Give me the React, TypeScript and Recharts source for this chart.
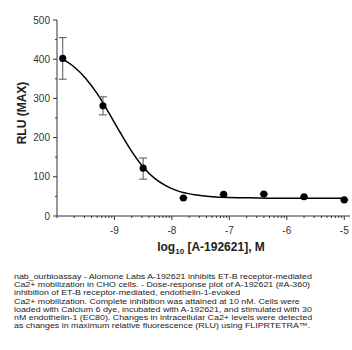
import { ComposedChart, ErrorBar, Line, Scatter, XAxis, YAxis, ZAxis } from 'recharts';

// measured points: log10 concentration (M), RLU max, error [down, up]
const logConc = [-9.9, -9.2, -8.5, -7.8, -7.1, -6.4, -5.7, -5.0];
const rlu = [402, 281, 122, 46, 55, 56, 49, 41];
const errDown = [53, 23, 28, 0, 0, 0, 0, 0];
const errUp = [53, 23, 26, 0, 0, 0, 0, 0];

// fitted curve
const fitX = [-9.9, -9.7, -9.5, -9.3, -9.1, -8.9, -8.7, -8.5, -8.3, -8.1, -7.9, -7.6, -7.3, -7.0, -6.5, -6.0, -5.0];
const fitY = [400, 380, 351, 312, 264, 213, 165, 125, 96, 77, 64, 54, 49, 47, 46, 45, 45];

const xMajor = [-9, -8, -7, -6, -5];
const yTicks = [0, 50, 100, 150, 200, 250, 300, 350, 400, 450, 500];
const yLabels = [0, 100, 200, 300, 400, 500];

const caption = [
  'nab_ourbioassay - Alomone Labs A-192621 inhibits ET-B receptor-mediated',
  'Ca2+ mobilization in CHO cells. - Dose-response plot of A-192621 (#A-360)',
  'inhibition of ET-B receptor-mediated, endothelin-1-evoked',
  'Ca2+ mobilization. Complete inhibition was attained at 10 nM. Cells were',
  'loaded with Calcium 6 dye, incubated with A-192621, and stimulated with 30',
  'nM endothelin-1 (EC80). Changes in intracellular Ca2+ levels were detected',
  'as changes in maximum relative fluorescence (RLU) using FLIPRTETRA\u2122.',
];

const X_MIN = -10;
const X_MAX = -4.9;

// log minor ticks between decades
const xTicks: number[] = [];
for (let d = -10; d <= -5; d++) {
  xTicks.push(d);
  for (let k = 2; k <= 9; k++) {
    const v = d + Math.log10(k);
    if (v < X_MAX) xTicks.push(v);
  }
}

const points = logConc.map((x, i) => ({ x, y: rlu[i], err: [errDown[i], errUp[i]] }));
const fit = fitX.map((x, i) => ({ x, y: fitY[i] }));

const font = '"Liberation Sans", Arial, sans-serif';
const axisColor = '#333';

function XTick(props: any) {
  const { x, y, payload } = props;
  const v = payload.value as number;
  const major = xMajor.some((m) => Math.abs(m - v) < 1e-6);
  return (
    <g>
      <line x1={x} x2={x} y1={y} y2={y + (major ? 4 : 2)} stroke={axisColor} strokeWidth={1} />
      {major && (
        <text x={x} y={y + 18} textAnchor="middle" fontSize={10} fontFamily={font} fill="#333">
          {v}
        </text>
      )}
    </g>
  );
}

function YTick(props: any) {
  const { x, y, payload } = props;
  const v = payload.value as number;
  const major = yLabels.includes(v);
  return (
    <g>
      <line x1={x} x2={x - (major ? 4 : 2)} y1={y} y2={y} stroke={axisColor} strokeWidth={1} />
      {major && (
        <text x={x - 7} y={y + 3.5} textAnchor="end" fontSize={10} fontFamily={font} fill="#333">
          {v}
        </text>
      )}
    </g>
  );
}

export default function App() {
  return (
    <div style={{ position: 'absolute', left: 0, top: 0, width: 352, height: 350, background: '#fff' }}>
      <ComposedChart width={352} height={260} margin={{ top: 20, right: 2, left: 0, bottom: 0 }}>
        <XAxis
          type="number"
          dataKey="x"
          domain={[X_MIN, X_MAX]}
          ticks={xTicks}
          interval={0}
          allowDataOverflow
          tick={<XTick />}
          tickLine={false}
          tickSize={0}
          tickMargin={0}
          height={44}
          stroke={axisColor}
        />
        <YAxis
          type="number"
          domain={[0, 500]}
          ticks={yTicks}
          interval={0}
          tick={<YTick />}
          tickLine={false}
          tickSize={0}
          tickMargin={0}
          width={57}
          stroke={axisColor}
        />
        <ZAxis range={[40, 40]} />
        <Line
          data={fit}
          dataKey="y"
          type="monotone"
          stroke="#000"
          strokeWidth={1.5}
          dot={false}
          isAnimationActive={false}
        />
        <Scatter data={points} dataKey="y" fill="#000" shape="circle" isAnimationActive={false}>
          <ErrorBar dataKey="err" direction="y" width={4} stroke="#555" strokeWidth={1} />
        </Scatter>
        <text x={22} y={113} transform="rotate(-90 22 113)" textAnchor="middle" dominantBaseline="central" fontSize={12} fontWeight="bold" fontFamily={font} fill="#222">
          RLU (MAX)
        </text>
        <text x={211} y={251} textAnchor="middle" fontSize={12} fontWeight="bold" fontFamily={font} fill="#222">
          log
          <tspan fontSize={8} dy={3}>10</tspan>
          <tspan dy={-3}> [A-192621], M</tspan>
        </text>
      </ComposedChart>
      <div
        style={{
          position: 'absolute',
          left: 14,
          top: 273,
          fontFamily: font,
          fontSize: 7.2,
          lineHeight: '8.2px',
          color: '#222',
          whiteSpace: 'nowrap',
          transform: 'scaleX(1.23)',
          transformOrigin: '0 0',
        }}
      >
        {caption.map((line, i) => (
          <div key={i}>{line}</div>
        ))}
      </div>
    </div>
  );
}
